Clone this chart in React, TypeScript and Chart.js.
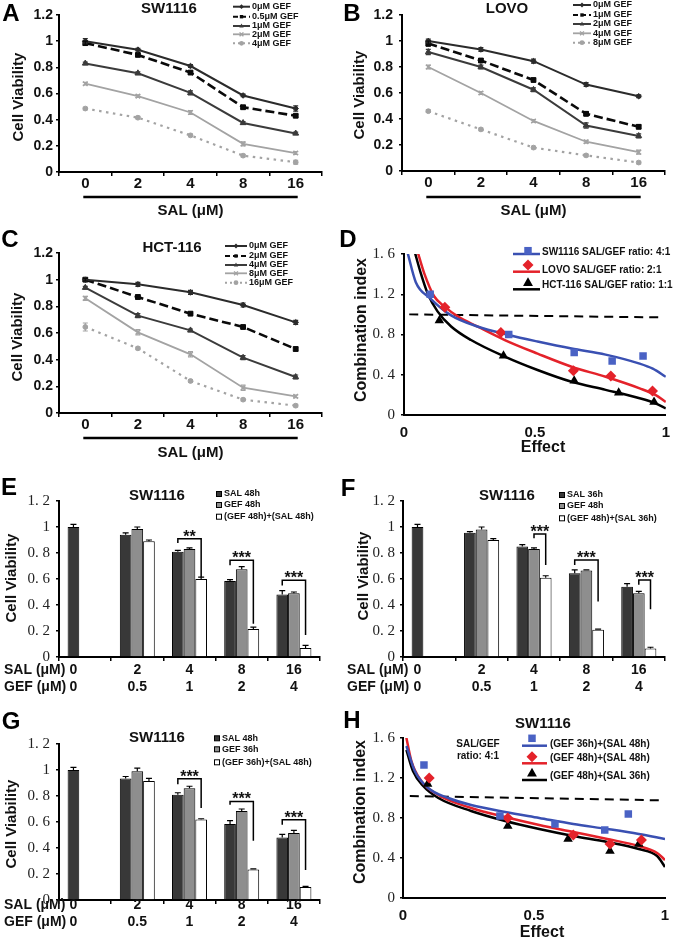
import React, { useEffect, useRef } from "react";
import { Chart, registerables } from "chart.js";

Chart.register(...registerables);

const SANS = "'Liberation Sans', Arial, Helvetica, sans-serif";
const SERIF = "'Liberation Serif', 'Times New Roman', serif";
Chart.defaults.font.family = SANS;

// ---------------- shared categories ----------------
const salDoses = ["0", "2", "4", "8", "16"];
const gefDoses = ["0", "0.5", "1", "2", "4"];

// ---------------- A: SW1116 ----------------
const aNames = ["0μM GEF", "0.5μM GEF", "1μM GEF", "2μM GEF", "4μM GEF"];
const aGef0 = [1.0, 0.935, 0.81, 0.585, 0.485];
const aGef05 = [0.985, 0.895, 0.76, 0.495, 0.43];
const aGef1 = [0.83, 0.755, 0.605, 0.375, 0.295];
const aGef2 = [0.675, 0.58, 0.455, 0.215, 0.145];
const aGef4 = [0.485, 0.415, 0.28, 0.125, 0.075];
const aErr = [
  [0.02, 0.01, 0.01, 0.01, 0.02],
  [0.015, 0.01, 0.01, 0.01, 0.01],
  [0.01, 0.01, 0.015, 0.01, 0.01],
  [0.01, 0.01, 0.015, 0.015, 0.01],
  [0.01, 0.01, 0.01, 0.01, 0.015],
];

// ---------------- B: LOVO ----------------
const bNames = ["0μM GEF", "1μM GEF", "2μM GEF", "4μM GEF", "8μM GEF"];
const bGef0 = [1.0, 0.935, 0.845, 0.665, 0.575];
const bGef1 = [0.98, 0.85, 0.7, 0.44, 0.34];
const bGef2 = [0.915, 0.8, 0.625, 0.35, 0.27];
const bGef4 = [0.8, 0.6, 0.385, 0.225, 0.145];
const bGef8 = [0.46, 0.32, 0.18, 0.12, 0.065];
const bErr = [
  [0.015, 0.015, 0.015, 0.015, 0.01],
  [0.02, 0.015, 0.01, 0.015, 0.015],
  [0.02, 0.015, 0.015, 0.02, 0.015],
  [0.015, 0.01, 0.01, 0.01, 0.015],
  [0.01, 0.01, 0.01, 0.01, 0.01],
];

// ---------------- C: HCT-116 ----------------
const cNames = ["0μM GEF", "2μM GEF", "4μM GEF", "8μM GEF", "16μM GEF"];
const cGef0 = [1.0, 0.965, 0.905, 0.81, 0.68];
const cGef2 = [1.0, 0.87, 0.745, 0.645, 0.48];
const cGef4 = [0.94, 0.73, 0.62, 0.415, 0.27];
const cGef8 = [0.86, 0.605, 0.44, 0.19, 0.125];
const cGef16 = [0.645, 0.485, 0.24, 0.1, 0.055];
const cErr = [
  [0.01, 0.015, 0.015, 0.015, 0.015],
  [0.01, 0.015, 0.01, 0.01, 0.015],
  [0.01, 0.015, 0.01, 0.015, 0.015],
  [0.015, 0.02, 0.02, 0.02, 0.01],
  [0.03, 0.01, 0.01, 0.01, 0.01],
];

// ---------------- D: combination index ----------------
const dNames = ["SW1116 SAL/GEF ratio: 4:1", "LOVO SAL/GEF ratio: 2:1", "HCT-116 SAL/GEF ratio: 1:1"];
const dBlueCurveX = [0.013, 0.045, 0.1, 0.18, 0.28, 0.4, 0.51, 0.64, 0.77, 0.9, 0.95, 1.0];
const dBlueCurveY = [1.62, 1.32, 1.16, 0.99, 0.88, 0.795, 0.73, 0.66, 0.6, 0.51, 0.46, 0.38];
const dRedCurveX = [0.05, 0.077, 0.115, 0.154, 0.205, 0.28, 0.385, 0.51, 0.64, 0.77, 0.9, 0.96, 1.0];
const dRedCurveY = [1.64, 1.41, 1.18, 1.08, 0.98, 0.88, 0.745, 0.61, 0.48, 0.38, 0.265, 0.2, 0.13];
const dBlackCurveX = [0.04, 0.064, 0.09, 0.128, 0.18, 0.256, 0.385, 0.51, 0.64, 0.77, 0.9, 0.96, 1.0];
const dBlackCurveY = [1.63, 1.41, 1.21, 1.03, 0.88, 0.745, 0.58, 0.447, 0.33, 0.25, 0.166, 0.116, 0.066];
const dBlueX = [0.1, 0.4, 0.65, 0.795, 0.913];
const dBlueY = [1.2, 0.8, 0.62, 0.537, 0.586];
const dRedX = [0.156, 0.37, 0.647, 0.79, 0.949];
const dRedY = [1.07, 0.82, 0.44, 0.387, 0.238];
const dBlackX = [0.135, 0.38, 0.65, 0.82, 0.955];
const dBlackY = [0.94, 0.59, 0.34, 0.22, 0.13];
const dDashX = [0.02, 0.98];
const dDashY = [1.0, 0.97];

// ---------------- E / F / G: bars ----------------
const eNames = ["SAL 48h", "GEF 48h", "(GEF 48h)+(SAL 48h)"];
const eSal = [1.0, 0.94, 0.81, 0.585, 0.48];
const eGef = [null, 0.985, 0.83, 0.675, 0.49];
const eCombo = [null, 0.89, 0.6, 0.215, 0.07];
const eSalErr = [0.02, 0.015, 0.01, 0.01, 0.03];
const eGefErr = [null, 0.015, 0.01, 0.02, 0.01];
const eComboErr = [null, 0.01, 0.015, 0.015, 0.02];
const eBrCats = [2, 3, 4];
const eBrLeft = [0, 0, 0];
const eBrTop = [0.91, 0.744, 0.59];
const eBrLeftEnd = [0.877, 0.705, 0.55];
const eBrRightEnd = [0.615, 0.256, 0.17];
const eBrStars = ["**", "***", "***"];

const fNames = ["SAL 36h", "GEF 48h", "(GEF 48h)+(SAL 36h)"];
const fSal = [1.0, 0.955, 0.85, 0.645, 0.54];
const fGef = [null, 0.98, 0.83, 0.665, 0.49];
const fCombo = [null, 0.9, 0.61, 0.21, 0.065];
const fSalErr = [0.02, 0.01, 0.015, 0.025, 0.025];
const fGefErr = [null, 0.02, 0.01, 0.005, 0.015];
const fComboErr = [null, 0.01, 0.015, 0.005, 0.01];
const fBrCats = [2, 3, 4];
const fBrLeft = [1, 0, 1];
const fBrTop = [0.946, 0.747, 0.593];
const fBrLeftEnd = [0.913, 0.708, 0.555];
const fBrRightEnd = [0.708, 0.427, 0.368];
const fBrStars = ["***", "***", "***"];

const gNames = ["SAL 48h", "GEF 36h", "(GEF 36h)+(SAL 48h)"];
const gSal = [1.0, 0.935, 0.81, 0.585, 0.48];
const gGef = [null, 0.99, 0.86, 0.685, 0.515];
const gCombo = [null, 0.915, 0.62, 0.235, 0.1];
const gSalErr = [0.02, 0.015, 0.015, 0.025, 0.025];
const gGefErr = [null, 0.025, 0.015, 0.015, 0.02];
const gComboErr = [null, 0.02, 0.005, 0.005, 0.005];
const gBrCats = [2, 3, 4];
const gBrLeft = [0, 0, 0];
const gBrTop = [0.933, 0.758, 0.617];
const gBrLeftEnd = [0.89, 0.733, 0.578];
const gBrRightEnd = [0.707, 0.455, 0.23];
const gBrStars = ["***", "***", "***"];

// ---------------- H: combination index SW1116 ----------------
const hNames = ["(GEF 36h)+(SAL 48h)", "(GEF 48h)+(SAL 48h)", "(GEF 48h)+(SAL 36h)"];
const hBlueCurveX = [0.013, 0.045, 0.096, 0.173, 0.26, 0.39, 0.52, 0.65, 0.78, 0.9, 1.0];
const hBlueCurveY = [1.52, 1.27, 1.1, 1.0, 0.93, 0.86, 0.8, 0.74, 0.69, 0.64, 0.59];
const hRedCurveX = [0.01, 0.032, 0.07, 0.135, 0.26, 0.39, 0.52, 0.65, 0.78, 0.9, 0.97, 1.0];
const hRedCurveY = [1.64, 1.37, 1.17, 1.03, 0.9, 0.81, 0.73, 0.66, 0.59, 0.52, 0.45, 0.38];
const hBlackCurveX = [0.013, 0.038, 0.077, 0.135, 0.26, 0.39, 0.52, 0.65, 0.78, 0.9, 0.97, 1.0];
const hBlackCurveY = [1.48, 1.27, 1.12, 1.0, 0.87, 0.77, 0.69, 0.62, 0.56, 0.49, 0.42, 0.31];
const hBlueX = [0.08, 0.37, 0.58, 0.77, 0.86];
const hBlueY = [1.33, 0.82, 0.74, 0.68, 0.84];
const hRedX = [0.1, 0.4, 0.65, 0.79, 0.91];
const hRedY = [1.2, 0.8, 0.63, 0.54, 0.58];
const hBlackX = [0.094, 0.4, 0.63, 0.79, 0.9];
const hBlackY = [1.14, 0.72, 0.59, 0.47, 0.54];
const hDashX = [0.026, 0.98];
const hDashY = [1.02, 0.977];

// ---------------- helpers ----------------
type Txt = { t: string; x: number; y: number; font: string; align?: CanvasTextAlign; rot?: boolean; color?: string };
type Area = { W: number; H: number; L: number; R: number; T: number; B: number };

const bold = (s: number) => `bold ${s}px ${SANS}`;

function drawTexts(ctx: CanvasRenderingContext2D, list: Txt[]) {
  for (const s of list) {
    ctx.save();
    ctx.fillStyle = s.color || "#111";
    ctx.font = s.font;
    ctx.textAlign = s.align || "center";
    ctx.textBaseline = "middle";
    ctx.translate(s.x, s.y);
    if (s.rot) ctx.rotate(-Math.PI / 2);
    ctx.fillText(s.t, 0, 0);
    ctx.restore();
  }
}

function drawMarker(ctx: CanvasRenderingContext2D, style: string, x: number, y: number, r: number, fill: string) {
  ctx.save();
  ctx.fillStyle = fill;
  ctx.strokeStyle = fill;
  ctx.setLineDash([]);
  ctx.lineWidth = 1;
  ctx.beginPath();
  if (style === "rect") {
    const s = r * Math.SQRT1_2;
    ctx.rect(x - s, y - s, 2 * s, 2 * s);
    ctx.fill();
  } else if (style === "rectRot") {
    ctx.moveTo(x - r, y);
    ctx.lineTo(x, y - r);
    ctx.lineTo(x + r, y);
    ctx.lineTo(x, y + r);
    ctx.closePath();
    ctx.fill();
  } else if (style === "triangle") {
    ctx.moveTo(x, y - r);
    ctx.lineTo(x + r * 0.9, y + r * 0.6);
    ctx.lineTo(x - r * 0.9, y + r * 0.6);
    ctx.closePath();
    ctx.fill();
  } else if (style === "circle") {
    ctx.arc(x, y, r, 0, Math.PI * 2);
    ctx.fill();
  } else if (style === "crossRot") {
    const s = r * 0.8;
    ctx.lineWidth = 1.4;
    ctx.moveTo(x - s, y - s);
    ctx.lineTo(x + s, y + s);
    ctx.moveTo(x + s, y - s);
    ctx.lineTo(x - s, y + s);
    ctx.stroke();
  }
  ctx.restore();
}

const isInt = (v: number) => Math.abs(v - Math.round(v)) < 1e-9;
const serifFmt = (v: number) => (isInt(v) ? String(Math.round(v)) : v.toFixed(1).replace(".", ". "));
const sansFmt = (v: number) => (isInt(v) ? String(Math.round(v)) : v.toFixed(1));

const lineStyles = [
  { color: "#2b2b2b", dash: [] as number[], legDash: [] as number[], point: "rectRot", r: 2.8, width: 2 },
  { color: "#0a0a0a", dash: [9, 4], legDash: [5, 3], point: "rect", r: 3.4, width: 2.6 },
  { color: "#3b3b3b", dash: [], legDash: [], point: "triangle", r: 3.4, width: 2 },
  { color: "#a3a3a3", dash: [], legDash: [], point: "crossRot", r: 3.2, width: 1.8 },
  { color: "#a3a3a3", dash: [2.5, 4.5], legDash: [2, 3], point: "circle", r: 2.4, width: 2.2 },
];

function padding(a: Area) {
  return { left: 0, top: a.T, right: a.W - a.R, bottom: 0 };
}

// ---------------- line panels (A, B, C) ----------------
type LineSpec = {
  area: Area; series: number[][]; errors: number[][]; names: string[]; yPad: number;
  texts: Txt[]; legX: number; legLen: number; legYs: number[]; doseY: number; doseTitleY: number;
};

function buildLine(s: LineSpec) {
  const datasets = s.series.map((d, i) => {
    const st = lineStyles[i];
    return {
      label: s.names[i],
      data: d,
      borderColor: st.color,
      backgroundColor: st.color,
      borderWidth: st.width,
      borderDash: st.dash,
      pointStyle: st.point,
      pointRadius: st.r,
      pointBorderWidth: st.point === "crossRot" ? 1.5 : 1,
      pointBackgroundColor: st.color,
      pointBorderColor: st.color,
      tension: 0,
    };
  });
  const extras = {
    id: "lineExtras",
    afterDatasetsDraw(chart: any) {
      const ctx = chart.ctx;
      const y = chart.scales.y;
      s.series.forEach((d, i) => {
        const meta = chart.getDatasetMeta(i);
        ctx.save();
        ctx.strokeStyle = lineStyles[i].color;
        ctx.lineWidth = 1.2;
        ctx.setLineDash([]);
        d.forEach((v, j) => {
          const e = s.errors[i][j];
          const px = meta.data[j].x;
          const y1 = y.getPixelForValue(v + e);
          const y2 = y.getPixelForValue(v - e);
          ctx.beginPath();
          ctx.moveTo(px, y1);
          ctx.lineTo(px, y2);
          ctx.moveTo(px - 2.5, y1);
          ctx.lineTo(px + 2.5, y1);
          ctx.moveTo(px - 2.5, y2);
          ctx.lineTo(px + 2.5, y2);
          ctx.stroke();
        });
        ctx.restore();
      });
    },
    afterDraw(chart: any) {
      const ctx = chart.ctx;
      const x = chart.scales.x;
      s.names.forEach((n, i) => {
        const st = lineStyles[i];
        const yy = s.legYs[i];
        ctx.save();
        ctx.strokeStyle = st.color;
        ctx.lineWidth = Math.min(st.width, 2);
        ctx.setLineDash(st.legDash);
        ctx.beginPath();
        ctx.moveTo(s.legX, yy);
        ctx.lineTo(s.legX + s.legLen, yy);
        ctx.stroke();
        ctx.restore();
        drawMarker(ctx, st.point, s.legX + s.legLen / 2, yy, 2.4, st.color);
        drawTexts(ctx, [{ t: n, x: s.legX + s.legLen + 2, y: yy, font: bold(9), align: "left" }]);
      });
      const x0 = x.getPixelForValue(0) - 2;
      const x4 = x.getPixelForValue(4) + 2;
      ctx.save();
      ctx.fillStyle = "#000";
      ctx.fillRect(x0, s.doseY - 1.25, x4 - x0, 2.5);
      ctx.restore();
      drawTexts(ctx, [{ t: "SAL (μM)", x: (x0 + x4) / 2, y: s.doseTitleY, font: bold(15) }, ...s.texts]);
    },
  };
  const a = s.area;
  return {
    type: "line",
    data: { labels: salDoses, datasets },
    options: {
      responsive: false,
      animation: false,
      devicePixelRatio: 1,
      layout: { padding: padding(a) },
      plugins: { legend: { display: false }, tooltip: { enabled: false } },
      scales: {
        x: {
          type: "category",
          offset: true,
          grid: { display: true, drawOnChartArea: false, offset: true, drawTicks: true, tickLength: 4, color: "#000", lineWidth: 1.5 },
          border: { display: true, color: "#000", width: 2 },
          ticks: { color: "#111", font: { family: SANS, size: 15, weight: "bold", lineHeight: 1 }, padding: 0, maxRotation: 0, autoSkip: false },
          afterFit: (sc: any) => { sc.height = a.H - a.B; },
        },
        y: {
          min: 0,
          max: 1.2,
          ticks: { stepSize: 0.2, color: "#111", font: { family: SANS, size: 14, weight: "bold" }, padding: s.yPad, callback: (v: any) => sansFmt(Number(v)) },
          grid: { drawOnChartArea: false, tickLength: 3, color: "#000", lineWidth: 1.5 },
          border: { display: true, color: "#000", width: 2 },
          afterFit: (sc: any) => { sc.width = a.L; },
        },
      },
    },
    plugins: [extras],
  };
}

// ---------------- bar panels (E, F, G) ----------------
const barFills = ["#383838", "#8e8e8e", "#ffffff"];

type BarSpec = {
  area: Area; values: (number | null)[][]; errors: (number | null)[][]; names: string[]; yPad: number;
  texts: Txt[]; legX: number; legYs: number[];
  brCats: number[]; brLeft: number[]; brTop: number[]; brLeftEnd: number[]; brRightEnd: number[]; brStars: string[];
  rowX: number; rowYs: number[];
};

function buildBar(s: BarSpec) {
  const datasets = s.values.map((d, i) => ({
    label: s.names[i],
    data: d,
    backgroundColor: barFills[i],
    borderColor: "#000",
    borderWidth: 1,
    barPercentage: 1,
    categoryPercentage: 0.67,
  }));
  const extras = {
    id: "barExtras",
    afterDatasetsDraw(chart: any) {
      const ctx = chart.ctx;
      const y = chart.scales.y;
      ctx.save();
      ctx.strokeStyle = "#000";
      ctx.lineWidth = 1.2;
      s.values.forEach((d, i) => {
        const meta = chart.getDatasetMeta(i);
        d.forEach((v, j) => {
          const e = s.errors[i][j];
          if (v == null || e == null) return;
          const px = meta.data[j].x;
          const y0 = y.getPixelForValue(v);
          const y1 = y.getPixelForValue(v + e);
          ctx.beginPath();
          ctx.moveTo(px, y0);
          ctx.lineTo(px, y1);
          ctx.moveTo(px - 3, y1);
          ctx.lineTo(px + 3, y1);
          ctx.stroke();
        });
      });
      // significance brackets
      ctx.lineWidth = 1.5;
      s.brCats.forEach((c, k) => {
        const xl = chart.getDatasetMeta(s.brLeft[k]).data[c].x;
        const xr = chart.getDatasetMeta(2).data[c].x;
        const yt = y.getPixelForValue(s.brTop[k]);
        ctx.beginPath();
        ctx.moveTo(xl, y.getPixelForValue(s.brLeftEnd[k]));
        ctx.lineTo(xl, yt);
        ctx.lineTo(xr, yt);
        ctx.lineTo(xr, y.getPixelForValue(s.brRightEnd[k]));
        ctx.stroke();
        ctx.save();
        ctx.fillStyle = "#111";
        ctx.font = bold(16);
        ctx.textAlign = "center";
        ctx.textBaseline = "alphabetic";
        const m = ctx.measureText(s.brStars[k]);
        const asc = m.actualBoundingBoxAscent || 11;
        const desc = m.actualBoundingBoxDescent || -6;
        const base = yt - 5.5 - (desc - asc) / 2;
        ctx.fillText(s.brStars[k], (xl + xr) / 2, base);
        ctx.restore();
      });
      ctx.restore();
    },
    afterDraw(chart: any) {
      const ctx = chart.ctx;
      const x = chart.scales.x;
      // legend
      s.names.forEach((n, i) => {
        const yy = s.legYs[i];
        ctx.save();
        ctx.fillStyle = barFills[i];
        ctx.strokeStyle = "#000";
        ctx.lineWidth = 1;
        ctx.fillRect(s.legX - 2.5, yy - 2.5, 5, 5);
        ctx.strokeRect(s.legX - 2.5, yy - 2.5, 5, 5);
        ctx.restore();
        drawTexts(ctx, [{ t: n, x: s.legX + 5, y: yy, font: bold(9), align: "left" }]);
      });
      // dose rows
      const meta0 = chart.getDatasetMeta(0);
      const rows = [salDoses, gefDoses];
      const heads = ["SAL (μM)", "GEF (μM)"];
      rows.forEach((row, r) => {
        const list: Txt[] = [{ t: heads[r], x: s.rowX, y: s.rowYs[r], font: bold(14), align: "left" }];
        row.forEach((lab, i) => {
          const px = i === 0 ? meta0.data[0].x : x.getPixelForValue(i);
          list.push({ t: lab, x: px, y: s.rowYs[r], font: bold(14) });
        });
        drawTexts(ctx, list);
      });
      drawTexts(ctx, s.texts);
    },
  };
  const a = s.area;
  return {
    type: "bar",
    data: { labels: salDoses, datasets },
    options: {
      responsive: false,
      animation: false,
      devicePixelRatio: 1,
      layout: { padding: padding(a) },
      plugins: { legend: { display: false }, tooltip: { enabled: false } },
      scales: {
        x: {
          type: "category",
          offset: true,
          grid: { display: true, drawOnChartArea: false, offset: true, drawTicks: true, tickLength: 4, color: "#000", lineWidth: 1.5 },
          border: { display: true, color: "#000", width: 2 },
          ticks: { display: false },
          afterFit: (sc: any) => { sc.height = a.H - a.B; },
        },
        y: {
          min: 0,
          max: 1.2,
          ticks: { stepSize: 0.2, color: "#222", font: { family: SERIF, size: 15 }, padding: s.yPad, callback: (v: any) => serifFmt(Number(v)) },
          grid: { drawOnChartArea: false, tickLength: 3, color: "#000", lineWidth: 1.5 },
          border: { display: true, color: "#000", width: 2 },
          afterFit: (sc: any) => { sc.width = a.L; },
        },
      },
    },
    plugins: [extras],
  };
}

// ---------------- combination index panels (D, H) ----------------
const ciStyles = [
  { line: "#3a50b2", mark: "#4a62c4", point: "rect", r: 5.3 },
  { line: "#e4222a", mark: "#e4222a", point: "rectRot", r: 5.5 },
  { line: "#000000", mark: "#000000", point: "triangle", r: 5.5 },
];

type CISpec = {
  area: Area; curvesX: number[][]; curvesY: number[][]; marksX: number[][]; marksY: number[][];
  dashX: number[]; dashY: number[]; names: string[]; yPad: number; xPad: number; texts: Txt[];
  legLine: [number, number]; legMarkX: number; legTextX: number; legMarkYs: number[]; legLineYs: number[]; legTextYs: number[];
};

const zip = (xs: number[], ys: number[]) => xs.map((x, i) => ({ x, y: ys[i] }));

function buildCI(s: CISpec) {
  const markSets = s.marksX.map((xs, i) => ({
    label: s.names[i] + " data",
    data: zip(xs, s.marksY[i]),
    showLine: false,
    pointStyle: ciStyles[i].point,
    pointRadius: ciStyles[i].r,
    pointBackgroundColor: ciStyles[i].mark,
    pointBorderColor: ciStyles[i].mark,
    pointBorderWidth: 0,
  }));
  const curveSets = s.curvesX.map((xs, i) => ({
    label: s.names[i],
    data: zip(xs, s.curvesY[i]),
    showLine: true,
    borderColor: ciStyles[i].line,
    borderWidth: 2.5,
    pointRadius: 0,
    cubicInterpolationMode: "monotone",
  }));
  const dashSet = {
    label: "CI = 1",
    data: zip(s.dashX, s.dashY),
    showLine: true,
    borderColor: "#000",
    borderWidth: 2,
    borderDash: [9, 6],
    pointRadius: 0,
  };
  const extras = {
    id: "ciExtras",
    afterDraw(chart: any) {
      const ctx = chart.ctx;
      s.names.forEach((n, i) => {
        ctx.save();
        ctx.strokeStyle = ciStyles[i].line;
        ctx.lineWidth = 2.5;
        ctx.beginPath();
        ctx.moveTo(s.legLine[0], s.legLineYs[i]);
        ctx.lineTo(s.legLine[1], s.legLineYs[i]);
        ctx.stroke();
        ctx.restore();
        drawMarker(ctx, ciStyles[i].point, s.legMarkX, s.legMarkYs[i], ciStyles[i].r, ciStyles[i].mark);
        drawTexts(ctx, [{ t: n, x: s.legTextX, y: s.legTextYs[i], font: bold(10), align: "left" }]);
      });
      drawTexts(ctx, s.texts);
    },
  };
  const a = s.area;
  return {
    type: "scatter",
    data: { datasets: [...markSets, ...curveSets, dashSet] },
    options: {
      responsive: false,
      animation: false,
      devicePixelRatio: 1,
      layout: { padding: padding(a) },
      plugins: { legend: { display: false }, tooltip: { enabled: false } },
      scales: {
        x: {
          type: "linear",
          min: 0,
          max: 1,
          ticks: { stepSize: 0.5, color: "#111", font: { family: SANS, size: 15, weight: "bold", lineHeight: 1 }, padding: s.xPad, maxRotation: 0, callback: (v: any) => sansFmt(Number(v)) },
          grid: { display: true, drawOnChartArea: false, drawTicks: false, color: "#000" },
          border: { display: true, color: "#000", width: 2 },
          afterFit: (sc: any) => { sc.height = a.H - a.B; },
        },
        y: {
          min: 0,
          max: 1.6,
          ticks: { stepSize: 0.4, color: "#222", font: { family: SERIF, size: 15 }, padding: s.yPad, callback: (v: any) => serifFmt(Number(v)) },
          grid: { drawOnChartArea: false, tickLength: 3, color: "#000", lineWidth: 1.5 },
          border: { display: true, color: "#000", width: 2 },
          afterFit: (sc: any) => { sc.width = a.L; },
        },
      },
    },
    plugins: [extras],
  };
}

// ---------------- panel specs ----------------
const letter = (t: string, x: number, y: number): Txt => ({ t, x, y, font: bold(24), color: "#000" });
const yTitle = (t: string, x: number, y: number, size = 15): Txt => ({ t, x, y, font: bold(size), rot: true });
const title = (t: string, x: number, y: number): Txt => ({ t, x, y, font: bold(15) });

const buildA = () =>
  buildLine({
    area: { W: 340, H: 230, L: 59, R: 322, T: 15, B: 172 },
    series: [aGef0, aGef05, aGef1, aGef2, aGef4],
    errors: aErr,
    names: aNames,
    yPad: 3,
    texts: [letter("A", 11, 14), title("SW1116", 169, 9), yTitle("Cell Viability", 18.5, 97)],
    legX: 233,
    legLen: 17,
    legYs: [6.7, 16.7, 26, 34.3, 43.3],
    doseY: 197,
    doseTitleY: 211,
  });

const buildB = () =>
  buildLine({
    area: { W: 340, H: 230, L: 62, R: 325, T: 15, B: 171 },
    series: [bGef0, bGef1, bGef2, bGef4, bGef8],
    errors: bErr,
    names: bNames,
    yPad: 6,
    texts: [letter("B", 12, 14), title("LOVO", 167, 9), yTitle("Cell Viability", 20, 95)],
    legX: 233,
    legLen: 18,
    legYs: [5, 15, 24, 33.3, 42.7],
    doseY: 197,
    doseTitleY: 211,
  });

const buildC = () =>
  buildLine({
    area: { W: 340, H: 240, L: 59, R: 322, T: 23, B: 183 },
    series: [cGef0, cGef2, cGef4, cGef8, cGef16],
    errors: cErr,
    names: cNames,
    yPad: 3,
    texts: [letter("C", 10, 10), title("HCT-116", 172, 18), yTitle("Cell Viability", 17.5, 107)],
    legX: 225,
    legLen: 22,
    legYs: [16, 26, 35, 43.3, 52.7],
    doseY: 208,
    doseTitleY: 223,
  });

const buildD = () =>
  buildCI({
    area: { W: 340, H: 240, L: 64, R: 327, T: 24, B: 185 },
    curvesX: [dBlueCurveX, dRedCurveX, dBlackCurveX],
    curvesY: [dBlueCurveY, dRedCurveY, dBlackCurveY],
    marksX: [dBlueX, dRedX, dBlackX],
    marksY: [dBlueY, dRedY, dBlackY],
    dashX: dDashX,
    dashY: dDashY,
    names: dNames,
    yPad: 6,
    xPad: 10,
    texts: [letter("D", 8, 10), yTitle("Combination index", 21.5, 100, 16), { t: "Effect", x: 203, y: 218, font: bold(16) }],
    legLine: [173, 200],
    legMarkX: 188,
    legTextX: 202,
    legMarkYs: [20.7, 35, 52.7],
    legLineYs: [24, 41.7, 59.3],
    legTextYs: [22.7, 40, 55],
  });

const buildE = () =>
  buildBar({
    area: { W: 340, H: 235, L: 59, R: 320, T: 31, B: 187 },
    values: [eSal, eGef, eCombo],
    errors: [eSalErr, eGefErr, eComboErr],
    names: eNames,
    yPad: 6,
    texts: [letter("E", 9, 18), title("SW1116", 157, 26), yTitle("Cell Viability", 12, 108)],
    legX: 219,
    legYs: [24, 35, 46.7],
    brCats: eBrCats,
    brLeft: eBrLeft,
    brTop: eBrTop,
    brLeftEnd: eBrLeftEnd,
    brRightEnd: eBrRightEnd,
    brStars: eBrStars,
    rowX: 4,
    rowYs: [200, 216.7],
  });

const buildF = () =>
  buildBar({
    area: { W: 340, H: 235, L: 63, R: 325, T: 31, B: 187 },
    values: [fSal, fGef, fCombo],
    errors: [fSalErr, fGefErr, fComboErr],
    names: fNames,
    yPad: 5,
    texts: [letter("F", 8, 19), title("SW1116", 167, 26), yTitle("Cell Viability", 24, 106)],
    legX: 222,
    legYs: [25, 36, 48.3],
    brCats: fBrCats,
    brLeft: fBrLeft,
    brTop: fBrTop,
    brLeftEnd: fBrLeftEnd,
    brRightEnd: fBrRightEnd,
    brStars: fBrStars,
    rowX: 7,
    rowYs: [200, 216.7],
  });

const buildG = () =>
  buildBar({
    area: { W: 340, H: 239, L: 59, R: 320, T: 39, B: 195 },
    values: [gSal, gGef, gCombo],
    errors: [gSalErr, gGefErr, gComboErr],
    names: gNames,
    yPad: 6,
    texts: [letter("G", 11, 17), title("SW1116", 157, 33), yTitle("Cell Viability", 12, 119)],
    legX: 217,
    legYs: [33.3, 44.3, 57.3],
    brCats: gBrCats,
    brLeft: gBrLeft,
    brTop: gBrTop,
    brLeftEnd: gBrLeftEnd,
    brRightEnd: gBrRightEnd,
    brStars: gBrStars,
    rowX: 4,
    rowYs: [200, 216.7],
  });

const buildH = () =>
  buildCI({
    area: { W: 340, H: 239, L: 63, R: 325, T: 33, B: 193 },
    curvesX: [hBlueCurveX, hRedCurveX, hBlackCurveX],
    curvesY: [hBlueCurveY, hRedCurveY, hBlackCurveY],
    marksX: [hBlueX, hRedX, hBlackX],
    marksY: [hBlueY, hRedY, hBlackY],
    dashX: hDashX,
    dashY: hDashY,
    names: hNames,
    yPad: 5,
    xPad: 10,
    texts: [
      letter("H", 12, 16),
      title("SW1116", 203, 19),
      yTitle("Combination index", 21, 107, 16),
      { t: "Effect", x: 202, y: 228, font: bold(16) },
      { t: "SAL/GEF", x: 138, y: 39.3, font: bold(10) },
      { t: "ratio: 4:1", x: 138, y: 51.7, font: bold(10) },
    ],
    legLine: [182, 207],
    legMarkX: 192,
    legTextX: 210,
    legMarkYs: [33.3, 51.7, 68.3],
    legLineYs: [40.7, 58.3, 75],
    legTextYs: [39.3, 53.3, 71.7],
  });

// ---------------- components ----------------
function Panel({ left, top, w, h, build }: { left: number; top: number; w: number; h: number; build: () => any }) {
  const ref = useRef<HTMLCanvasElement>(null);
  useEffect(() => {
    const chart = new Chart(ref.current as HTMLCanvasElement, build());
    return () => chart.destroy();
  }, []);
  return (
    <div style={{ position: "absolute", left, top, width: w, height: h }}>
      <canvas ref={ref} width={w} height={h} style={{ width: w, height: h, display: "block" }} />
    </div>
  );
}

export default function App() {
  return (
    <div style={{ position: "absolute", left: 0, top: 0, width: 680, height: 944, background: "#fff", overflow: "hidden" }}>
      <Panel left={0} top={0} w={340} h={230} build={buildA} />
      <Panel left={340} top={0} w={340} h={230} build={buildB} />
      <Panel left={0} top={230} w={340} h={240} build={buildC} />
      <Panel left={340} top={230} w={340} h={240} build={buildD} />
      <Panel left={0} top={470} w={340} h={235} build={buildE} />
      <Panel left={340} top={470} w={340} h={235} build={buildF} />
      <Panel left={0} top={705} w={340} h={239} build={buildG} />
      <Panel left={340} top={705} w={340} h={239} build={buildH} />
    </div>
  );
}
